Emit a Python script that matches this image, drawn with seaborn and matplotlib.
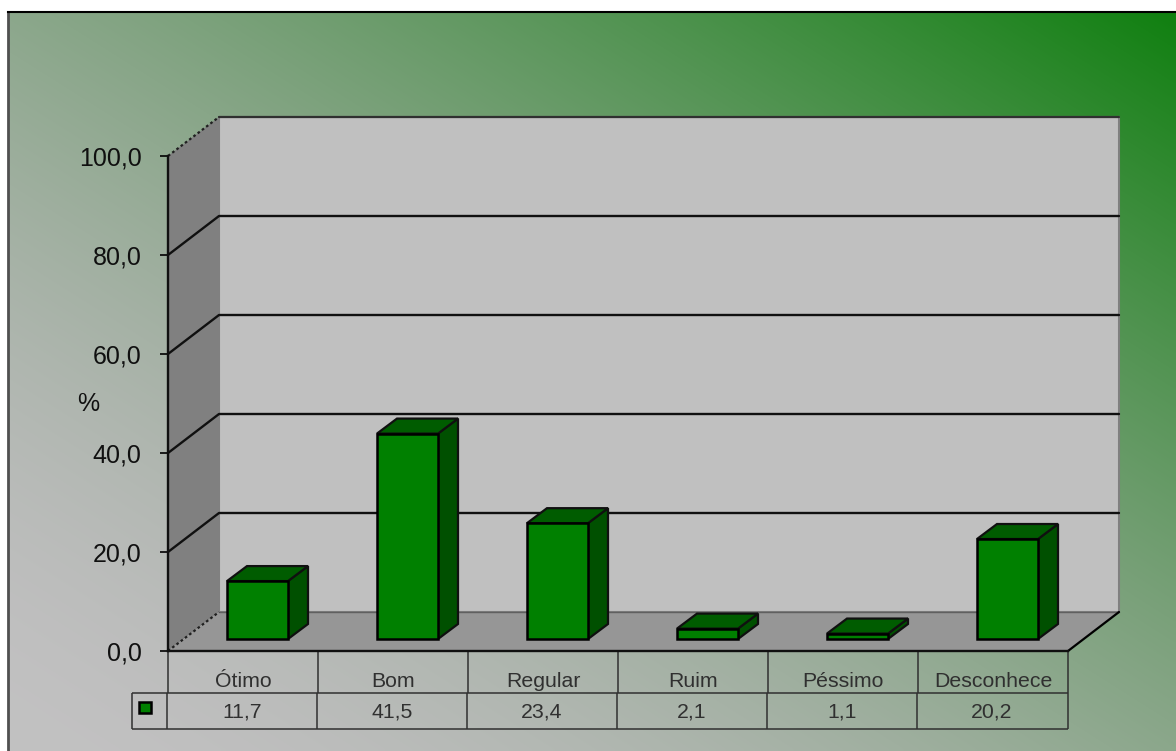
# plot.py
import matplotlib.pyplot as plt
import numpy as np
import pandas as pd
import seaborn as sns
from matplotlib.patches import Polygon, Rectangle

sns.set_style("white")
plt.rcParams["font.family"] = ["Liberation Sans", "DejaVu Sans"]

categories = ["Ótimo", "Bom", "Regular", "Ruim", "Péssimo", "Desconhece"]
values = [11.7, 41.5, 23.4, 2.1, 1.1, 20.2]
value_labels = ["11,7", "41,5", "23,4", "2,1", "1,1", "20,2"]
y_ticks = [0, 20, 40, 60, 80, 100]
y_tick_labels = ["0,0", "20,0", "40,0", "60,0", "80,0", "100,0"]

W, H = 1176, 751
PX_X = 1 / 150  # data units per pixel, x
PX_Y = 1 / 4.95  # data units per pixel, y

fig = plt.figure(figsize=(W / 100, H / 100), dpi=100, facecolor="white")

# gradient background with frame on top and left only
bg = fig.add_axes([8 / W, 0, (W - 8) / W, (H - 12) / H], zorder=0)
u, v = np.meshgrid(np.linspace(0, 1, 300), np.linspace(1, 0, 200))
t = (u + v) / 2
red = 194 - 178 * t ** 1.7
green = 194 - 66 * t ** 1.3
bg.imshow(np.dstack([red, green, red]) / 255, aspect="auto", interpolation="bilinear")
bg.set_xticks([])
bg.set_yticks([])
for side in ["right", "bottom"]:
    bg.spines[side].set_visible(False)
bg.spines["top"].set_color("black")
bg.spines["left"].set_color("#505050")
bg.spines["top"].set_linewidth(1.5)
bg.spines["left"].set_linewidth(2)

# main axes is the front plane of the 3d box
ax = fig.add_axes([168 / W, (H - 651) / H, 900 / W, 495 / H], zorder=1)
ax.patch.set_alpha(0)
data = pd.DataFrame({"cat": categories, "val": values})
sns.barplot(data=data, x="cat", y="val", color="#008000", saturation=1, width=61 * PX_X,
            edgecolor="black", linewidth=1.8, ax=ax, zorder=5)
ax.set_xlim(-0.5, 5.5)
ax.set_ylim(0, 100)
ax.set_xlabel("")
ax.set_ylabel("")

# walls
x0, x1 = -0.5, 5.5
dx, dy = 51 * PX_X, 39 * PX_Y
ax.add_patch(Polygon([(x0, 0), (x0 + dx, dy), (x0 + dx, 100 + dy), (x0, 100)],
                     fc="#808080", ec="none", zorder=1, clip_on=False))
ax.add_patch(Rectangle((x0 + dx, dy), x1 - x0, 100, fc="#c0c0c0", ec="#808080", lw=1.5,
                       zorder=1, clip_on=False))
ax.add_patch(Polygon([(x0, 0), (x1, 0), (x1 + dx, dy), (x0 + dx, dy)],
                     fc="#969696", ec="none", zorder=2, clip_on=False))
ax.plot([x0 + dx, x1 + dx], [dy, dy], color="#606060", lw=1, zorder=3, clip_on=False)
ax.plot([x1, x1 + dx], [0, dy], color="black", lw=1.6, zorder=3, clip_on=False)
ax.plot([x0 + dx, x1 + dx], [100 + dy, 100 + dy], color="#303030", lw=1.6, zorder=3, clip_on=False)
for tick in [0, 100]:
    ax.plot([x0, x0 + dx], [tick, tick + dy], color="#202020", lw=1.6, ls=(0, (1.2, 1.2)),
            zorder=3, clip_on=False)
for tick in y_ticks[1:-1]:
    ax.plot([x0, x0 + dx, x1 + dx], [tick, tick + dy, tick + dy], color="#101010", lw=1.7,
            zorder=3, clip_on=False)

# move bars onto the floor and give them depth
shift_x, shift_y = 14.5 * PX_X, 12 * PX_Y
bar_dx, bar_dy = 20 * PX_X, 15 * PX_Y
for bar in ax.patches[:len(values)]:
    bar.set_x(bar.get_x() + shift_x)
    bar.set_y(shift_y)
    bar.set_clip_on(False)
    bx, bw, bh = bar.get_x(), bar.get_width(), bar.get_height()
    top = bh + shift_y
    ax.add_patch(Polygon([(bx + bw, shift_y), (bx + bw + bar_dx, shift_y + bar_dy),
                          (bx + bw + bar_dx, top + bar_dy), (bx + bw, top)],
                         fc="#005000", ec="#101010", lw=1.6, zorder=4, clip_on=False))
    ax.add_patch(Polygon([(bx, top), (bx + bar_dx, top + bar_dy),
                          (bx + bw + bar_dx, top + bar_dy), (bx + bw, top)],
                         fc="#005c00", ec="#101010", lw=1.6, zorder=4, clip_on=False))

# axes ticks
for side in ["top", "right"]:
    ax.spines[side].set_visible(False)
for side in ["left", "bottom"]:
    ax.spines[side].set_color("#101010")
    ax.spines[side].set_linewidth(1.7)
    ax.spines[side].set_zorder(6)
ax.set_yticks(y_ticks)
ax.set_yticklabels(y_tick_labels)
ax.tick_params(axis="y", left=True, length=6, width=1.2, color="black", pad=13,
               labelsize=18, labelcolor="#101010")
ax.set_xticks(range(len(categories)))
ax.set_xticklabels(categories)
ax.tick_params(axis="x", bottom=False, pad=22.5, labelsize=15.3, labelcolor="#303030")
for lab in ax.get_xticklabels():
    lab.set_va("baseline")
ax.text(-0.5 - 80 * PX_X, 100 - 248.5 * PX_Y, "%", fontsize=18,
        ha="center", va="center", color="#101010")

# data table under the chart
row1 = -42 * PX_Y
row2 = -78 * PX_Y
legend_x = x0 - 36 * PX_X
edges = np.arange(len(categories) + 1) - 0.5
ax.vlines(edges, row1, 0, color="#303030", lw=1.1, clip_on=False)
ax.vlines(edges[:-1] - PX_X, row2, row1, color="#303030", lw=1.1, clip_on=False)
ax.vlines([edges[-1], legend_x], row2, row1, color="#303030", lw=1.1, clip_on=False)
ax.hlines([row1, row2], legend_x, x1, color="#303030", lw=1.1, clip_on=False)
for i, label in enumerate(value_labels):
    ax.text(i - PX_X, -66 * PX_Y, label, fontsize=15.3, ha="center", va="baseline",
            color="#303030", clip_on=False)
ax.add_patch(Rectangle((x0 - 29 * PX_X, -62 * PX_Y), 12 * PX_X, 11 * PX_Y, fc="#008000",
                       ec="black", lw=1.8, clip_on=False))

plt.savefig("out.png", dpi=100)
plt.close()
